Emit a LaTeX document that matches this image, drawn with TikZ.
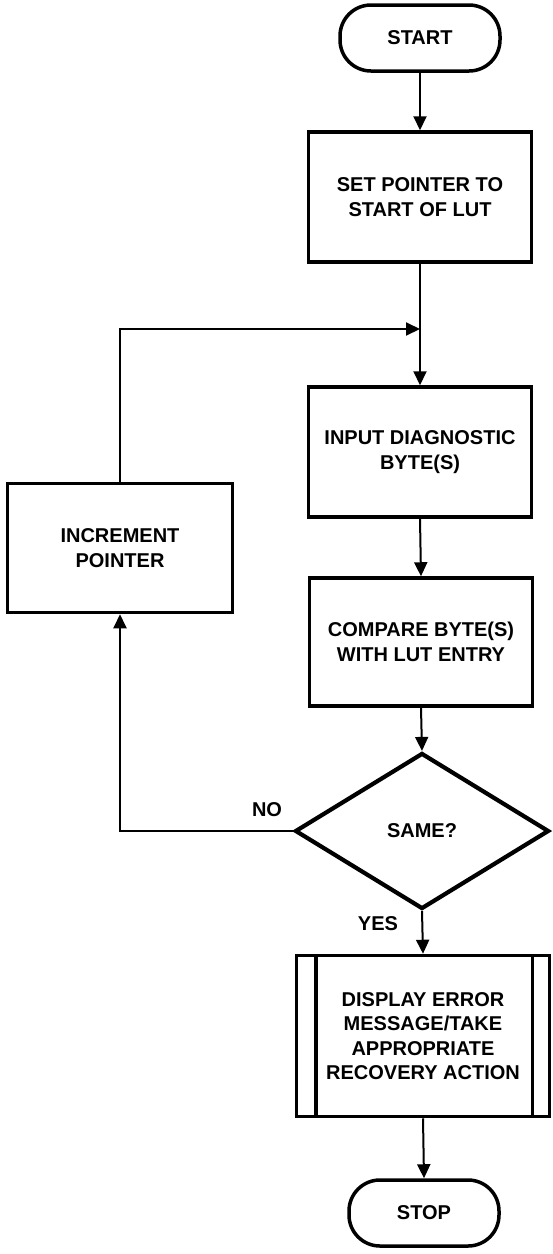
\documentclass[tikz,border=0pt]{standalone}
\usepackage{fontspec}
\setmainfont{Liberation Sans}
\usetikzlibrary{shapes.geometric,arrows.meta,calc}
\begin{document}
\begin{tikzpicture}[x=1pt,y=-1pt,
  txt/.style={font=\fontsize{20}{24.5}\selectfont\bfseries, align=center, inner sep=0pt},
  terminal/.style={txt, draw, line width=3.5pt, rounded corners=31pt,
    minimum width=150pt, minimum height=66pt},
  procbox/.style={txt, draw, line width=3.5pt, minimum width=223pt, minimum height=130pt},
  decision/.style={txt, draw, diamond, line width=4.2pt, minimum width=254pt,
    minimum height=156pt},
  flow/.style={line width=2pt, -{Triangle[length=14pt,width=13pt]}},
  lbl/.style={font=\fontsize{20}{24}\selectfont\bfseries, inner sep=0pt}]
\useasboundingbox (0,0) rectangle (553,1254);

% main column
\node[terminal, minimum width=160pt] (start) at (420,38) {START};
\node[procbox] (set) at (420,197) {SET POINTER TO\\START OF LUT};
\node[procbox] (input) at (420,452) {INPUT DIAGNOSTIC\\BYTE(S)};
\node[procbox, minimum height=128pt] (compare) at (421,642) {COMPARE BYTE(S)\\WITH LUT ENTRY};
\node[decision] (same) at (422,831) {SAME?};
\node[procbox, minimum width=253pt, minimum height=161pt] (display) at (423,1036)
  {DISPLAY ERROR\\MESSAGE/TAKE\\APPROPRIATE\\RECOVERY ACTION};
\node[terminal] (stop) at (424,1213) {STOP};

% side branch
\node[procbox, minimum width=225pt, minimum height=129pt] (incr) at (120,548) {INCREMENT\\POINTER};

% predefined-process bars
\draw[line width=3.5pt] ($(display.north west)+(21,0)$) -- ($(display.south west)+(21,0)$);
\draw[line width=3.5pt] ($(display.north east)+(-19,0)$) -- ($(display.south east)+(-19,0)$);

% connectors
\coordinate (join) at (set.south |- 0,329);
\draw[flow] (start.south) -- (set.north);
\draw[flow] (set.south) -- (input.north);
\draw[flow] (incr.north) |- (join);
\draw[flow] (input.south) -- (compare.north);
\draw[flow] (compare.south) -- (same.north);
\draw[flow] (same.west) -| (incr.south);
\draw[flow] (same.south) -- (display.north);
\draw[flow] (display.south) -- (stop.north);

% branch labels
\node[lbl] (no) at (267,810) {NO};
\node[lbl] (yes) at (378,924) {YES};
\end{tikzpicture}
\end{document}
